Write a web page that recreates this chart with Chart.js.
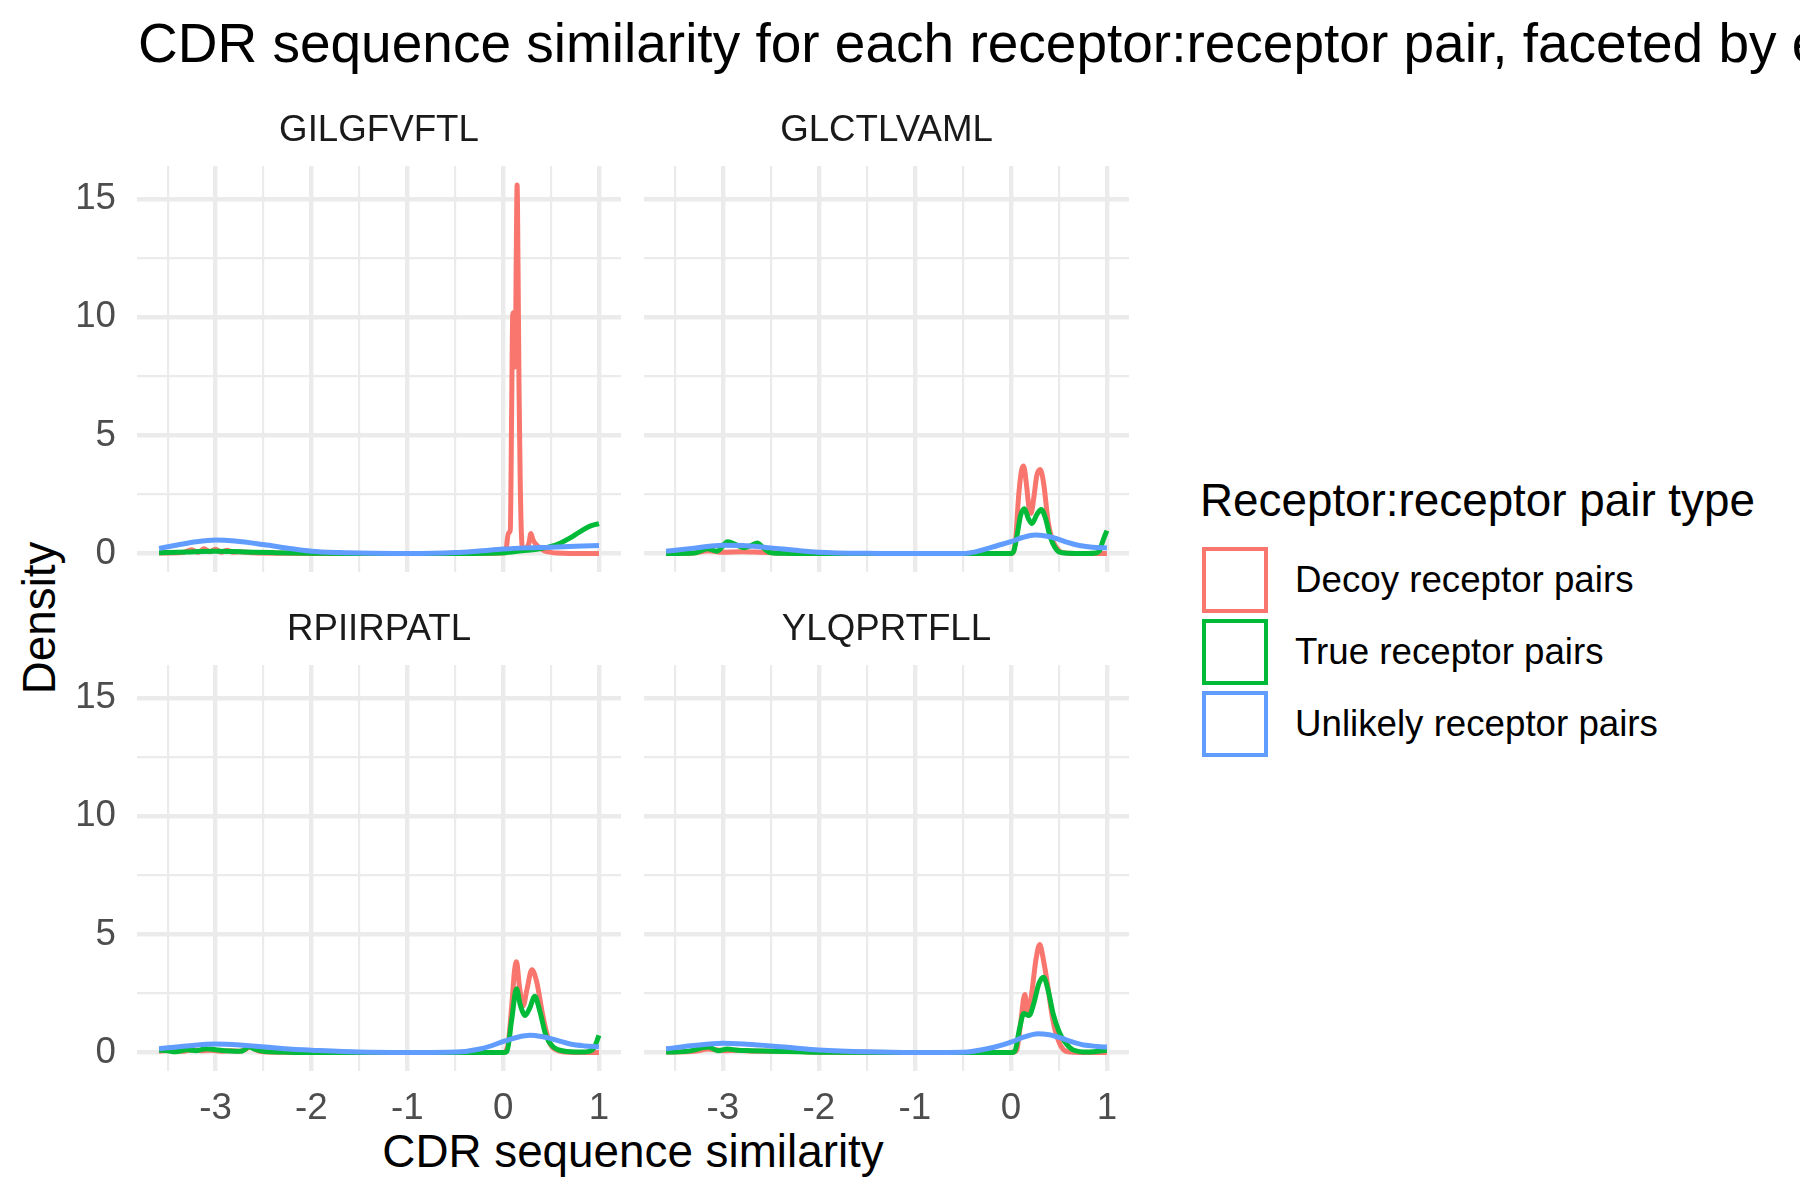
<!DOCTYPE html>
<html><head><meta charset="utf-8">
<script src="https://cdn.jsdelivr.net/npm/chart.js@4/dist/chart.umd.min.js"></script>
<style>
html,body{margin:0;padding:0;background:#fff;}
#root{position:relative;width:1800px;height:1200px;overflow:hidden;font-family:'Liberation Sans',Arial,sans-serif;background:#fff;}
#root canvas{position:absolute;}
.t{position:absolute;white-space:nowrap;color:#000;}
.key{position:absolute;box-sizing:border-box;width:66px;height:66px;background:#fff;}
</style></head><body><div id="root">
<div class="t" style="left:138px;top:16px;font-size:55px;line-height:55px;">CDR sequence similarity for each receptor:receptor pair, faceted by epitope</div>
<div class="t" style="left:333px;top:1129px;width:600px;text-align:center;font-size:45.8px;line-height:45.8px;">CDR sequence similarity</div>
<div class="t" style="left:-110px;top:595px;width:300px;text-align:center;font-size:45.8px;line-height:45.8px;transform:rotate(-90deg);">Density</div>
<div class="t" style="left:1200px;top:478px;font-size:45.8px;line-height:45.8px;">Receptor:receptor pair type</div>
<div id="legend"></div>
</div>
<script>
// ---- data ----
const epitopes = ['GILGFVFTL', 'GLCTLVAML', 'RPIIRPATL', 'YLQPRTFLL'];
const pairTypes = ['Decoy receptor pairs', 'True receptor pairs', 'Unlikely receptor pairs'];
const xTickValues = [-3, -2, -1, 0, 1];
const xMinorValues = [-3.5, -2.5, -1.5, -0.5, 0.5];
const yTickValues = [0, 5, 10, 15];
const yMinorValues = [2.5, 7.5, 12.5];

// GILGFVFTL
const gilDecoyX = [-3.59,-3.35,-3.25,-3.18,-3.12,-3.06,-3.0,-2.94,-2.88,-2.82,-2.75,-2.6,-2.3,-2.0,-1.0,-0.2,0.0,0.03,0.055,0.075,0.09,0.1,0.112,0.126,0.137,0.146,0.156,0.166,0.178,0.192,0.21,0.24,0.27,0.29,0.31,0.34,0.38,0.43,0.5,0.56,0.7,1.0];
const gilDecoyY = [0.02,0.04,0.16,0.05,0.2,0.08,0.18,0.06,0.14,0.05,0.08,0.03,0.01,0,0,0,0.02,0.15,0.87,1.0,6.5,10.1,10.2,7.9,12.5,15.6,12.0,7.0,3.2,0.7,0.15,0.22,0.45,0.85,0.6,0.4,0.25,0.12,0.05,0.02,0,0];
const gilTrueX = [-3.59,-3.3,-3.0,-2.7,-2.4,-2.0,-1.5,-1.0,-0.5,0.0,0.2,0.35,0.5,0.6,0.7,0.8,0.9,1.0];
const gilTrueY = [0.03,0.07,0.1,0.07,0.04,0.01,0,0,0,0.03,0.12,0.18,0.3,0.45,0.66,0.92,1.15,1.27];
const gilUnlikelyX = [-3.59,-3.4,-3.2,-3.0,-2.8,-2.5,-2.2,-2.0,-1.7,-1.5,-1.0,-0.5,-0.25,0.0,0.25,0.5,0.75,1.0];
const gilUnlikelyY = [0.22,0.36,0.5,0.57,0.53,0.38,0.2,0.1,0.04,0.02,0,0.04,0.11,0.19,0.24,0.27,0.31,0.34];

// GLCTLVAML
const glcDecoyX = [-3.59,-3.3,-3.15,-3.0,-2.8,-2.6,-2.4,-2.0,-1.0,0.0,0.02,0.05,0.08,0.11,0.132,0.16,0.19,0.21,0.24,0.27,0.306,0.34,0.39,0.43,0.46,0.53,0.7,1.0];
const glcDecoyY = [0,0.02,0.12,0.05,0.08,0.05,0.02,0,0,0,0.02,0.6,2.4,3.5,3.7,3.0,1.9,1.7,2.4,3.3,3.56,3.0,1.3,0.6,0.35,0.05,0,0];
const glcTrueX = [-3.59,-3.3,-3.16,-3.06,-2.95,-2.85,-2.78,-2.7,-2.64,-2.58,-2.52,-2.4,-2.0,-1.0,0.0,0.03,0.07,0.1,0.142,0.18,0.22,0.27,0.316,0.36,0.41,0.46,0.5,0.6,0.8,0.88,0.92,0.96,1.0];
const glcTrueY = [0,0.02,0.2,0.1,0.5,0.35,0.25,0.35,0.45,0.25,0.06,0.01,0,0,0,0.1,0.9,1.6,1.9,1.5,1.27,1.65,1.86,1.5,0.7,0.25,0.07,0.01,0,0.02,0.1,0.56,0.97];
const glcUnlikelyX = [-3.59,-3.3,-3.0,-2.75,-2.5,-2.2,-2.0,-1.5,-1.0,-0.5,-0.34,-0.13,0.0,0.12,0.25,0.38,0.5,0.6,0.7,0.85,1.0];
const glcUnlikelyY = [0.1,0.23,0.35,0.33,0.24,0.12,0.06,0.01,0,0,0.1,0.35,0.5,0.68,0.79,0.73,0.6,0.46,0.35,0.27,0.24];

// RPIIRPATL
const rpiDecoyX = [-3.59,-3.45,-3.35,-3.25,-3.15,-3.05,-2.95,-2.85,-2.75,-2.68,-2.63,-2.58,-2.5,-2.3,-2.0,-1.0,0.0,0.05,0.09,0.12,0.14,0.17,0.21,0.25,0.3,0.35,0.41,0.45,0.49,0.55,0.62,0.8,1.0];
const rpiDecoyY = [0.05,0.1,0.05,0.12,0.08,0.1,0.06,0.08,0.05,0.15,0.28,0.12,0.03,0.01,0,0,0,0.3,2.0,3.5,3.84,2.8,1.98,2.7,3.5,3.0,1.65,0.9,0.36,0.12,0.03,0,0];
const rpiTrueX = [-3.59,-3.5,-3.42,-3.3,-3.2,-3.1,-3.0,-2.9,-2.8,-2.72,-2.65,-2.6,-2.5,-2.3,-2.0,-1.0,0.0,0.04,0.09,0.14,0.18,0.23,0.28,0.33,0.38,0.45,0.52,0.58,0.7,0.83,0.9,0.95,1.0];
const rpiTrueY = [0.1,0.08,0.03,0.12,0.08,0.16,0.12,0.08,0.06,0.07,0.25,0.15,0.05,0.02,0,0,0,0.05,1.4,2.7,2.0,1.57,1.9,2.38,1.8,0.68,0.25,0.11,0.03,0.02,0.05,0.2,0.73];
const rpiUnlikelyX = [-3.59,-3.3,-3.0,-2.75,-2.48,-2.2,-2.0,-1.5,-1.0,-0.49,-0.23,0.02,0.15,0.28,0.4,0.49,0.6,0.7,0.85,1.0];
const rpiUnlikelyY = [0.16,0.28,0.36,0.32,0.23,0.14,0.1,0.02,0,0.02,0.16,0.49,0.65,0.73,0.68,0.6,0.47,0.36,0.28,0.24];

// YLQPRTFLL
const ylqDecoyX = [-3.59,-3.3,-3.15,-3.0,-2.85,-2.7,-2.5,-2.3,-2.0,-1.0,0.0,0.06,0.1,0.145,0.18,0.22,0.26,0.3,0.34,0.385,0.42,0.457,0.5,0.55,0.62,0.8,1.0];
const ylqDecoyY = [0.02,0.05,0.15,0.08,0.1,0.06,0.05,0.05,0.01,0,0,0.1,1.2,2.46,1.57,2.6,3.9,4.57,3.9,2.8,1.8,1.0,0.45,0.11,0.02,0,0];
const ylqTrueX = [-3.59,-3.35,-3.15,-3.05,-2.95,-2.85,-2.7,-2.5,-2.2,-2.0,-1.0,0.0,0.04,0.09,0.134,0.19,0.24,0.29,0.34,0.39,0.44,0.5,0.55,0.65,0.8,1.0];
const ylqTrueY = [0.02,0.06,0.23,0.08,0.15,0.1,0.08,0.06,0.03,0.01,0,0,0.05,1.0,1.65,1.57,2.1,2.9,3.19,2.6,1.65,0.9,0.52,0.11,0.02,0.1];
const ylqUnlikelyX = [-3.59,-3.3,-3.0,-2.75,-2.5,-2.25,-2.0,-1.5,-1.0,-0.5,-0.21,0.0,0.14,0.28,0.4,0.51,0.64,0.76,0.9,1.0];
const ylqUnlikelyY = [0.16,0.3,0.39,0.35,0.28,0.19,0.11,0.03,0,0.01,0.19,0.44,0.66,0.8,0.75,0.63,0.45,0.32,0.26,0.23];

// ---- styling / layout ----
const COLORS = ['#F8766D', '#00BA38', '#619CFF'];
const FONT = "'Liberation Sans', Arial, sans-serif";
Chart.defaults.font.family = FONT;

const PANEL_X = [137, 644];
const PANEL_W = [484, 485];
const PANEL_Y = [166, 665];
const PANEL_H = 406;
const STRIP_H = 69;
const PAD = 20;
const X_RANGE = [-3.82, 1.23];
const Y_RANGE = [-0.781, 16.40];

const panelSeries = [
  [[gilDecoyX, gilDecoyY], [gilTrueX, gilTrueY], [gilUnlikelyX, gilUnlikelyY]],
  [[glcDecoyX, glcDecoyY], [glcTrueX, glcTrueY], [glcUnlikelyX, glcUnlikelyY]],
  [[rpiDecoyX, rpiDecoyY], [rpiTrueX, rpiTrueY], [rpiUnlikelyX, rpiUnlikelyY]],
  [[ylqDecoyX, ylqDecoyY], [ylqTrueX, ylqTrueY], [ylqUnlikelyX, ylqUnlikelyY]]
];

const root = document.getElementById('root');

function makePanel(i) {
  const col = i % 2, row = Math.floor(i / 2);
  const yW = col === 0 ? 80 : 0;
  const xH = row === 1 ? 70 : 50;
  const cv = document.createElement('canvas');
  const w = PAD + yW + PANEL_W[col] + PAD;
  const h = STRIP_H + PANEL_H + xH;
  cv.width = w; cv.height = h;
  cv.style.width = w + 'px'; cv.style.height = h + 'px';
  cv.style.left = (PANEL_X[col] - yW - PAD) + 'px';
  cv.style.top = (PANEL_Y[row] - STRIP_H) + 'px';
  root.appendChild(cv);

  const datasets = panelSeries[i].map((s, k) => ({
    label: pairTypes[k],
    data: s[0].map((x, j) => ({x: x, y: s[1][j]})),
    borderColor: COLORS[k],
    backgroundColor: COLORS[k],
    borderWidth: 5,
    pointRadius: 0,
    fill: false,
    cubicInterpolationMode: 'monotone',
    order: 2 - k
  }));

  new Chart(cv, {
    type: 'line',
    data: {datasets: datasets},
    options: {
      responsive: false,
      animation: false,
      devicePixelRatio: 1,
      events: [],
      layout: {padding: {left: PAD, right: PAD, top: 0, bottom: 0}},
      plugins: {
        legend: {display: false},
        tooltip: {enabled: false},
        title: {
          display: true, text: epitopes[i], fullSize: false,
          color: '#1A1A1A', font: {family: FONT, size: 36.7, weight: 'normal', lineHeight: 1.2},
          padding: {top: 12, bottom: 13}
        }
      },
      scales: {
        x: {
          type: 'linear', min: X_RANGE[0], max: X_RANGE[1],
          afterBuildTicks: s => { s.ticks = xMinorValues.concat(xTickValues).sort((a, b) => a - b).map(v => ({value: v})); },
          afterFit: s => { s.height = xH; },
          grid: {color: '#EBEBEB', drawTicks: false,
                 lineWidth: c => (c.tick && xTickValues.includes(c.tick.value)) ? 4.4 : 2.2},
          border: {display: false},
          ticks: {display: row === 1, autoSkip: false, maxRotation: 0, minRotation: 0, padding: 16,
                  color: '#4D4D4D', font: {family: FONT, size: 36.7},
                  callback: v => xTickValues.includes(v) ? String(v) : ''}
        },
        y: {
          type: 'linear', min: Y_RANGE[0], max: Y_RANGE[1],
          afterBuildTicks: s => { s.ticks = yMinorValues.concat(yTickValues).sort((a, b) => a - b).map(v => ({value: v})); },
          afterFit: s => { s.width = yW; },
          grid: {color: '#EBEBEB', drawTicks: false,
                 lineWidth: c => (c.tick && yTickValues.includes(c.tick.value)) ? 4.4 : 2.2},
          border: {display: false},
          ticks: {display: col === 0, autoSkip: false, padding: 21,
                  color: '#4D4D4D', font: {family: FONT, size: 36.7},
                  callback: v => yTickValues.includes(v) ? String(v) : ''}
        }
      }
    }
  });
}

for (let i = 0; i < epitopes.length; i++) makePanel(i);

// legend
const legend = document.getElementById('legend');
pairTypes.forEach((name, k) => {
  const slotTop = 544 + k * 72;
  const key = document.createElement('div');
  key.className = 'key';
  key.style.left = '1202px';
  key.style.top = (slotTop + 3) + 'px';
  key.style.border = '4px solid ' + COLORS[k];
  legend.appendChild(key);
  const lab = document.createElement('div');
  lab.className = 't';
  lab.style.left = '1295px';
  lab.style.top = slotTop + 'px';
  lab.style.fontSize = '36.7px';
  lab.style.lineHeight = '72px';
  lab.textContent = name;
  legend.appendChild(lab);
});
</script>
</body></html>
